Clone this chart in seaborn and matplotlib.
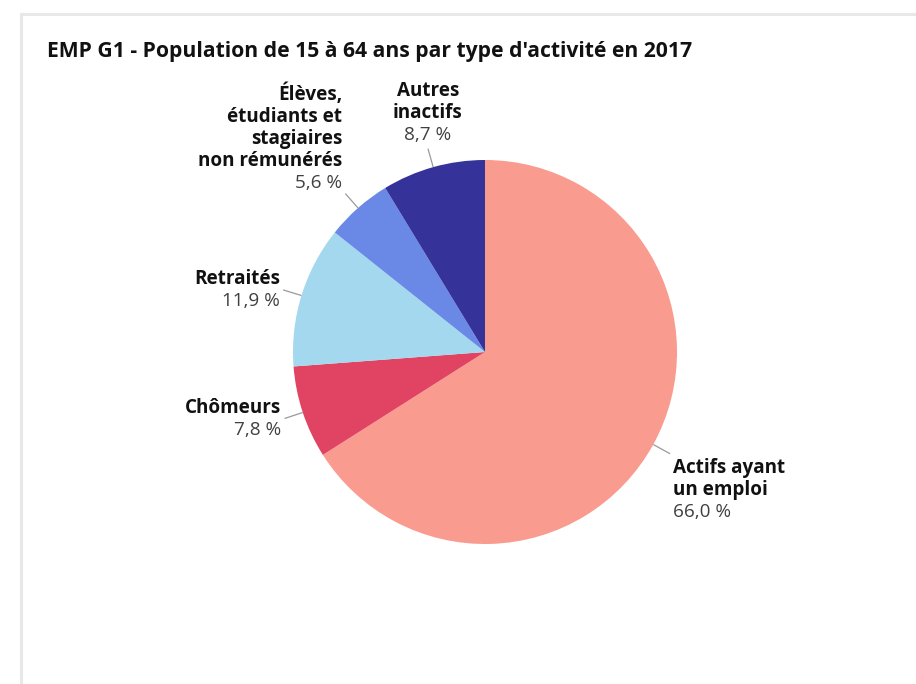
import matplotlib
matplotlib.use("Agg")
import numpy as np
import matplotlib.pyplot as plt
import seaborn as sns
from matplotlib.patches import Rectangle

# Data
categories = [
    "Actifs ayant\nun emploi",
    "Chômeurs",
    "Retraités",
    "Élèves,\nétudiants et\nstagiaires\nnon rémunérés",
    "Autres\ninactifs",
]
shares = [66.0, 7.8, 11.9, 5.6, 8.7]
value_labels = ["66,0 %", "7,8 %", "11,9 %", "5,6 %", "8,7 %"]
slice_colors = ["#F99B8E", "#E04462", "#A3D8EF", "#6A88E5", "#353399"]
title = "EMP G1 - Population de 15 à 64 ans par type d'activité en 2017"

sns.set_theme(style="white")
plt.rcParams["font.family"] = ["Open Sans", "DejaVu Sans"]

W, H = 916, 684
fig = plt.figure(figsize=(W / 100, H / 100), dpi=100)
fig.patch.set_facecolor("white")

# Light grey panel frame (top and left edges visible)
fig.add_artist(Rectangle((20.5 / W, -0.1), 1.1, (H - 14) / H + 0.1,
                         transform=fig.transFigure, fill=False,
                         edgecolor="#E8E8E8", linewidth=2.2))

fig.text(47 / W, 1 - 52 / H, title, fontsize=15.2, fontweight="bold",
         ha="left", va="center", color="#111111")

# Pie axes: centre and radius in pixels
cx, cy, r = 485, 352, 192
ax = fig.add_axes([(cx - r) / W, (H - cy - r) / H, 2 * r / W, 2 * r / H])
wedges, _ = ax.pie(shares, colors=slice_colors, startangle=90,
                   counterclock=False, radius=1,
                   wedgeprops=dict(linewidth=0))
ax.set_xlim(-1, 1)
ax.set_ylim(-1, 1)
ax.set_aspect("equal")
ax.axis("off")

fs = 13.6
L = 22 * 72 / 100       # line height in points
gap_h = 3 * 72 / 100
gap_v = 3 * 72 / 100
r_end = 1.1

for w, name, val in zip(wedges, categories, value_labels):
    theta = np.deg2rad((w.theta1 + w.theta2) / 2)
    c, s = np.cos(theta), np.sin(theta)
    ex, ey = r_end * c, r_end * s
    ax.plot([c, ex], [s, ey], color="#9a9a9a", lw=0.9, clip_on=False,
            solid_capstyle="butt")

    lines = name.split("\n")
    n_total = len(lines) + 1
    if s > 0.9:
        ha, dx = "center", 0
        top = gap_v + n_total * L
    else:
        ha = "right" if c < 0 else "left"
        dx = -gap_h if c < 0 else gap_h
        if s > 0.5:
            top = n_total * L
        elif s < -0.4:
            top = -gap_v
        else:
            top = n_total * L / 2

    for i, txt in enumerate(lines + [val]):
        is_value = i == len(lines)
        ax.annotate(txt, xy=(ex, ey), xytext=(dx, top - (i + 0.5) * L),
                    textcoords="offset points", ha=ha, va="center",
                    fontsize=fs,
                    fontweight="normal" if is_value else "bold",
                    color="#404040" if is_value else "#111111",
                    annotation_clip=False)

fig.savefig("out.png", dpi=100, facecolor="white")
